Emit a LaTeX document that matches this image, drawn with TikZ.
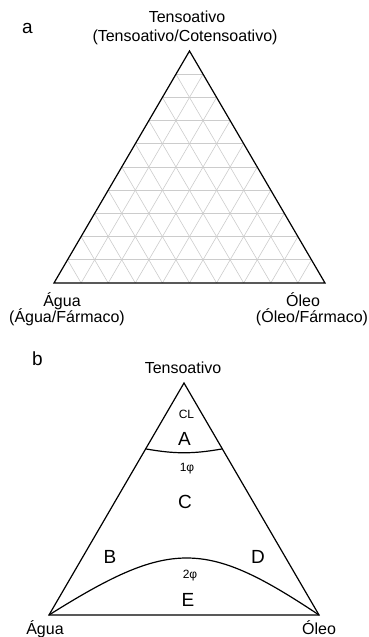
\documentclass[tikz,border=0pt]{standalone}
\usepackage{fontspec}
\setmainfont{Liberation Sans}
\usetikzlibrary{calc}

\begin{document}
\begin{tikzpicture}[x=1pt, y=1pt,
  lbl/.style={font=\fontsize{16}{17}\selectfont, inner sep=0pt, anchor=base},
  panel/.style={font=\fontsize{19}{20}\selectfont, inner sep=0pt, anchor=base},
  region/.style={font=\fontsize{19}{20}\selectfont, inner sep=0pt},
  phase/.style={font=\fontsize{12}{13}\selectfont, inner sep=0pt},
  edge/.style={line width=1.2pt, line join=miter},
  gridline/.style={gray!40, line width=0.6pt}]
  \useasboundingbox (0,0) rectangle (369,637);

  % Diagrama a: triangulo com grade
  \coordinate (Ta) at (189.5,586);
  \coordinate (La) at (54,354);
  \coordinate (Ra) at (325,354);
  \foreach \i in {1,...,9} {
    \draw[gridline] ($(La)!\i/10!(Ta)$) -- ($(Ra)!\i/10!(Ta)$);
    \draw[gridline] ($(La)!\i/10!(Ra)$) -- ($(Ta)!\i/10!(Ra)$);
    \draw[gridline] ($(Ra)!\i/10!(La)$) -- ($(Ta)!\i/10!(La)$);
  }
  \draw[edge] (La) -- (Ta) -- (Ra) -- cycle;

  \node[panel] (pa) at (27.5,603) {a};
  \node[lbl] (tensA) at (187,614) {Tensoativo};
  \node[lbl] (tensAsub) at (185,595) {(Tensoativo/Cotensoativo)};
  \node[lbl] (aguaA) at (62,330) {Água};
  \node[lbl] (aguaAsub) at (67,314) {(Água/Fármaco)};
  \node[lbl] (oleoA) at (303,330) {Óleo};
  \node[lbl] (oleoAsub) at (312,314) {(Óleo/Fármaco)};

  % Diagrama b: regioes
  \coordinate (Tb) at (184,254);
  \coordinate (Lb) at (49,22);
  \coordinate (Rb) at (319,22);
  \draw[edge] (Lb) -- (Tb) -- (Rb) -- cycle;
  \draw[edge] ($(Tb)!0.284!(Lb)$) to[bend right=10] ($(Tb)!0.284!(Rb)$);
  \draw[edge] (Lb) .. controls (170,98) and (205,98) .. (Rb);

  \node[panel] (pb) at (37.5,271) {b};
  \node[lbl] (tensB) at (183,263) {Tensoativo};
  \node[phase] (cl) at (186.5,222.5) {CL};
  \node[region] (zA) at (184.5,198.5) {A};
  \node[phase] (um) at (187,168) {1φ};
  \node[region] (zC) at (185,135) {C};
  \node[region] (zB) at (110,80) {B};
  \node[region] (zD) at (258,80) {D};
  \node[phase] (dois) at (190,61) {2φ};
  \node[region] (zE) at (188,37) {E};
  \node[lbl] (aguaB) at (45,2) {Água};
  \node[lbl] (oleoB) at (319,2) {Óleo};
\end{tikzpicture}
\end{document}
